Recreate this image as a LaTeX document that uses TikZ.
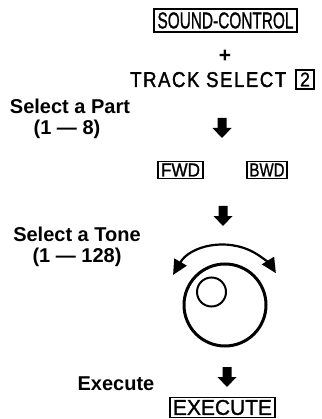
\documentclass[tikz,border=0pt]{standalone}
\usepackage{fontspec}
\setmainfont{Liberation Sans}
\newfontfamily\keyfont[FakeBold=1.2]{Liberation Sans}
\newfontfamily\trackfont[FakeBold=1.6,LetterSpace=8]{Liberation Sans}
\usetikzlibrary{arrows.meta}
\begin{document}
\begin{tikzpicture}[x=1pt,y=-1pt,
  lbl/.style={font=\fontsize{20}{24}\selectfont\bfseries, inner sep=0pt, anchor=base},
  keybox/.style={draw, line width=1.3pt, inner sep=0pt, anchor=center, font=\keyfont},
  dial/.style={line width=3pt},
  downarrow/.pic={\fill (-4.5,0) -- (4.5,0) -- (4.5,10) -- (9.5,10) -- (0,20) -- (-9.5,10) -- (-4.5,10) -- cycle;}]
\useasboundingbox (0,0) rectangle (321,419);

% top key
\node[keybox, minimum width=143pt, minimum height=23pt] (sc) at (225.5,20.5)
  {\resizebox{136pt}{16pt}{SOUND-CONTROL}};
\node[inner sep=0pt, font=\fontsize{21}{22}\selectfont\bfseries] (plus) at (225,56) {+};
\node[inner sep=0pt, anchor=base west, font=\trackfont] (ts) at (130,87)
  {\resizebox{156pt}{15pt}{TRACK SELECT}};
\node[keybox, minimum width=18pt, minimum height=19pt] (two) at (305,79.5)
  {\resizebox{10pt}{14pt}{2}};

% select a part
\node[lbl] (sp) at (70,114) {Select a Part};
\node[lbl] (sp2) at (67,135) {(1 — 8)};
\pic at (222,118) {downarrow};
\node[keybox, minimum width=45pt, minimum height=17pt] (fwd) at (180.5,170)
  {\resizebox{39pt}{13pt}{FWD}};
\node[keybox, minimum width=40pt, minimum height=17pt] (bwd) at (267,170)
  {\resizebox{35pt}{13pt}{BWD}};

% select a tone
\pic at (223,206) {downarrow};
\node[lbl] (st) at (77,241) {Select a Tone};
\node[lbl] (st2) at (77,262) {(1 — 128)};
\coordinate (dc) at (225,305);
\draw[dial] (dc) circle[radius=41];
\draw[line width=2pt] (211.5,292) circle[radius=14.5];
\draw[line width=2.2pt, {Triangle[length=15pt,width=14pt]}-{Triangle[length=15pt,width=14pt]}]
  ([shift={(210:60)}]dc) arc[start angle=210, end angle=328, radius=60];

% execute
\node[lbl] (ex) at (116,390) {Execute};
\pic at (227,367) {downarrow};
\node[keybox, minimum width=105pt, minimum height=20pt] (exk) at (222.5,407.5)
  {\resizebox{99pt}{15pt}{EXECUTE}};
\end{tikzpicture}
\end{document}
